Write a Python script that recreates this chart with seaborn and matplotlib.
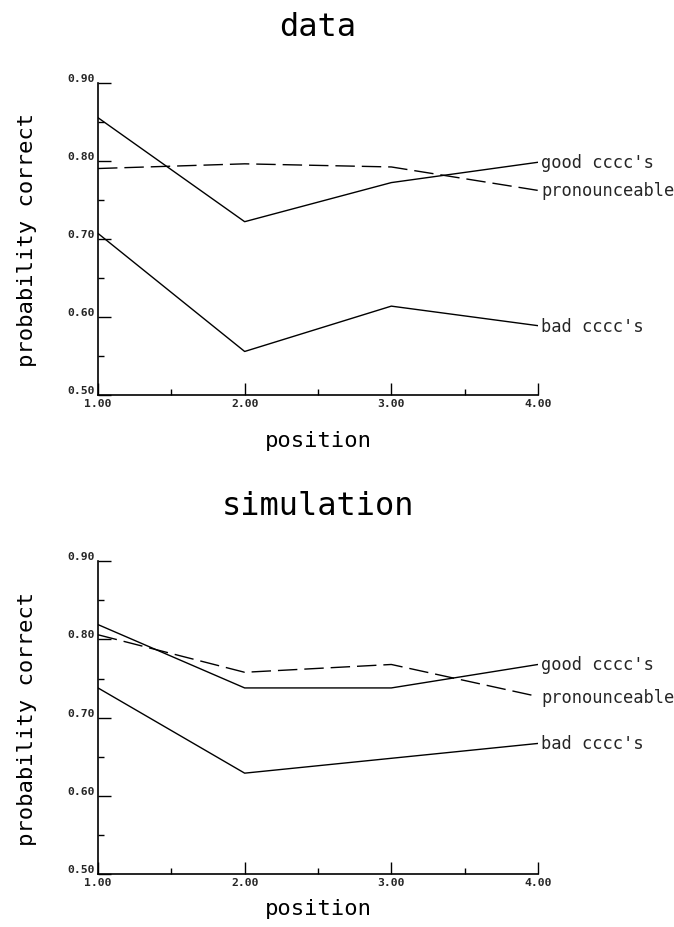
import matplotlib
matplotlib.use("Agg")
import matplotlib.pyplot as plt
from matplotlib.ticker import MultipleLocator, FormatStrFormatter
import seaborn as sns
import pandas as pd

# values
positions = [1, 2, 3, 4]
series_names = ["good cccc's", "pronounceable", "bad cccc's"]

data_good = [0.855, 0.722, 0.772, 0.798]
data_pron = [0.790, 0.796, 0.792, 0.762]
data_bad = [0.707, 0.556, 0.614, 0.589]

sim_good = [0.819, 0.738, 0.738, 0.768]
sim_pron = [0.806, 0.758, 0.768, 0.727]
sim_bad = [0.738, 0.629, 0.648, 0.667]

panel_titles = ["data", "simulation"]

sns.set_theme(style="ticks")
plt.rcParams['font.family'] = ['DejaVu Sans Mono', 'DejaVu Sans']

fig = plt.figure(figsize=(6.74, 9.28), dpi=100)
ax_top = fig.add_axes([0.1454, 0.573, 0.6528, 0.337])
ax_bot = fig.add_axes([0.1454, 0.0571, 0.6528, 0.337])

line_styles = {"good cccc's": "-", "pronounceable": (0, (14, 5)), "bad cccc's": "-"}

panels = [
    (ax_top, panel_titles[0], [data_good, data_pron, data_bad], 16),
    (ax_bot, panel_titles[1], [sim_good, sim_pron, sim_bad], 8),
]

for ax, title, vals, xpad in panels:
    for name, v in zip(series_names, vals):
        df = pd.DataFrame({"position": positions, "p": v})
        sns.lineplot(data=df, x="position", y="p", ax=ax, color="black",
                     linewidth=1.0, linestyle=line_styles[name])
        ax.text(positions[-1] + 0.02, v[-1], name, fontsize=12.3,
                va="center", ha="left", clip_on=False)

    ax.set_xlim(1, 4)
    ax.set_ylim(0.5, 0.9)
    ax.xaxis.set_major_locator(MultipleLocator(1))
    ax.xaxis.set_minor_locator(MultipleLocator(0.5))
    ax.yaxis.set_major_locator(MultipleLocator(0.1))
    ax.yaxis.set_minor_locator(MultipleLocator(0.05))
    ax.xaxis.set_major_formatter(FormatStrFormatter("%.2f"))
    ax.yaxis.set_major_formatter(FormatStrFormatter("%.2f"))
    ax.tick_params(axis="both", which="major", direction="in", length=9,
                   width=1.0, labelsize=8.2, pad=2, color="black")
    ax.tick_params(axis="both", which="minor", direction="in", length=4.5,
                   width=1.0, color="black")
    for lab in ax.get_xticklabels() + ax.get_yticklabels():
        lab.set_fontweight("bold")
    for lab in ax.get_yticklabels():
        lab.set_va("bottom")

    sns.despine(ax=ax)
    for s in ["left", "bottom"]:
        ax.spines[s].set_linewidth(1.2)
        ax.spines[s].set_color("black")

    ax.set_title(title, fontsize=23, pad=34, color="black")
    ax.set_xlabel("position", fontsize=16, labelpad=xpad, color="black")
    ax.set_ylabel("probability correct", fontsize=16, labelpad=22, color="black")

fig.savefig("out.png", dpi=100, facecolor="white")
